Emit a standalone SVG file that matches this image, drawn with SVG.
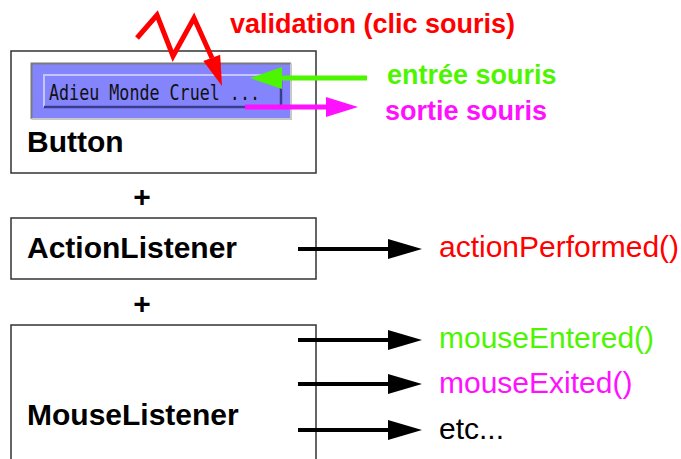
<svg xmlns="http://www.w3.org/2000/svg" width="681" height="459" viewBox="0 0 681 459">
<style>
.box{fill:#fff;stroke:#333;stroke-width:1.5}
.lbl{font-family:"Liberation Sans",Arial,sans-serif;font-weight:bold;font-size:30px;fill:#000}
.ev{font-family:"Liberation Sans",Arial,sans-serif;font-weight:bold;font-size:27px}
.m{font-family:"Liberation Sans",Arial,sans-serif;font-size:30px}
.ln{stroke:#000;stroke-width:4;fill:none}
</style>
<rect width="681" height="459" fill="#fff"/>
<g id="button">
<rect class="box" x="11" y="51" width="305" height="122"/>
<rect x="31" y="63" width="260" height="56" fill="#8484fc"/>
<path d="M31.5,119 V63.5 H291" stroke="#7a7a7a" stroke-width="2" fill="none"/>
<path d="M291,63.5 V119 H31.5" stroke="#c8c8c8" stroke-width="2" fill="none"/>
<path d="M44,107 V75 H281" stroke="#c4c4ff" stroke-width="2" fill="none"/>
<path d="M44,107 H281 V75" stroke="#3c3c8c" stroke-width="2.5" fill="none"/>
<text x="49" y="100" font-family="'DejaVu Sans Mono','Liberation Mono',monospace" font-size="21" textLength="211" lengthAdjust="spacingAndGlyphs" fill="#111">Adieu Monde Cruel ...</text>
<text class="lbl" x="27" y="152">Button</text>
</g>
<text class="lbl" x="142" y="207" text-anchor="middle">+</text>
<g id="actionlistener">
<rect class="box" x="11" y="218" width="305" height="61"/>
<text class="lbl" x="27" y="258">ActionListener</text>
</g>
<text class="lbl" x="142" y="314" text-anchor="middle">+</text>
<g id="mouselistener">
<rect class="box" x="11" y="325" width="305" height="150"/>
<text class="lbl" x="27" y="425">MouseListener</text>
</g>
<g id="connectors">
<polyline points="137,38 157,15 173,56 194,18 212,58" stroke="#ff0000" stroke-width="5" fill="none" stroke-linejoin="miter" stroke-miterlimit="10"/>
<polygon points="222,86 220.2,54.7 203.3,60.9" fill="#ff0000"/>
<line x1="367" y1="78" x2="278" y2="78" stroke="#4df500" stroke-width="5"/>
<polygon points="250,78 282,67 282,89" fill="#4df500"/>
<line x1="245" y1="107" x2="330" y2="107" stroke="#ff10ff" stroke-width="5"/>
<polygon points="358,107 326,97 326,117" fill="#ff10ff"/>
<line class="ln" x1="298" y1="249" x2="392" y2="249"/>
<polygon points="422,249 388,239 388,259"/>
<line class="ln" x1="298" y1="340" x2="392" y2="340"/>
<polygon points="422,340 388,330 388,350"/>
<line class="ln" x1="298" y1="384" x2="392" y2="384"/>
<polygon points="422,384 388,374 388,394"/>
<line class="ln" x1="298" y1="430" x2="392" y2="430"/>
<polygon points="422,430 388,420 388,440"/>
</g>
<text class="ev" x="230" y="33" fill="#ff0000">validation (clic souris)</text>
<text class="ev" x="387" y="84" fill="#4df500">entrée souris</text>
<text class="ev" x="385" y="120" fill="#ff10ff">sortie souris</text>
<text class="m" x="439" y="257" fill="#ff0000">actionPerformed()</text>
<text class="m" x="439" y="348" fill="#4df500">mouseEntered()</text>
<text class="m" x="439" y="393" fill="#ff10ff">mouseExited()</text>
<text class="m" x="439" y="439" fill="#000">etc...</text>
</svg>
